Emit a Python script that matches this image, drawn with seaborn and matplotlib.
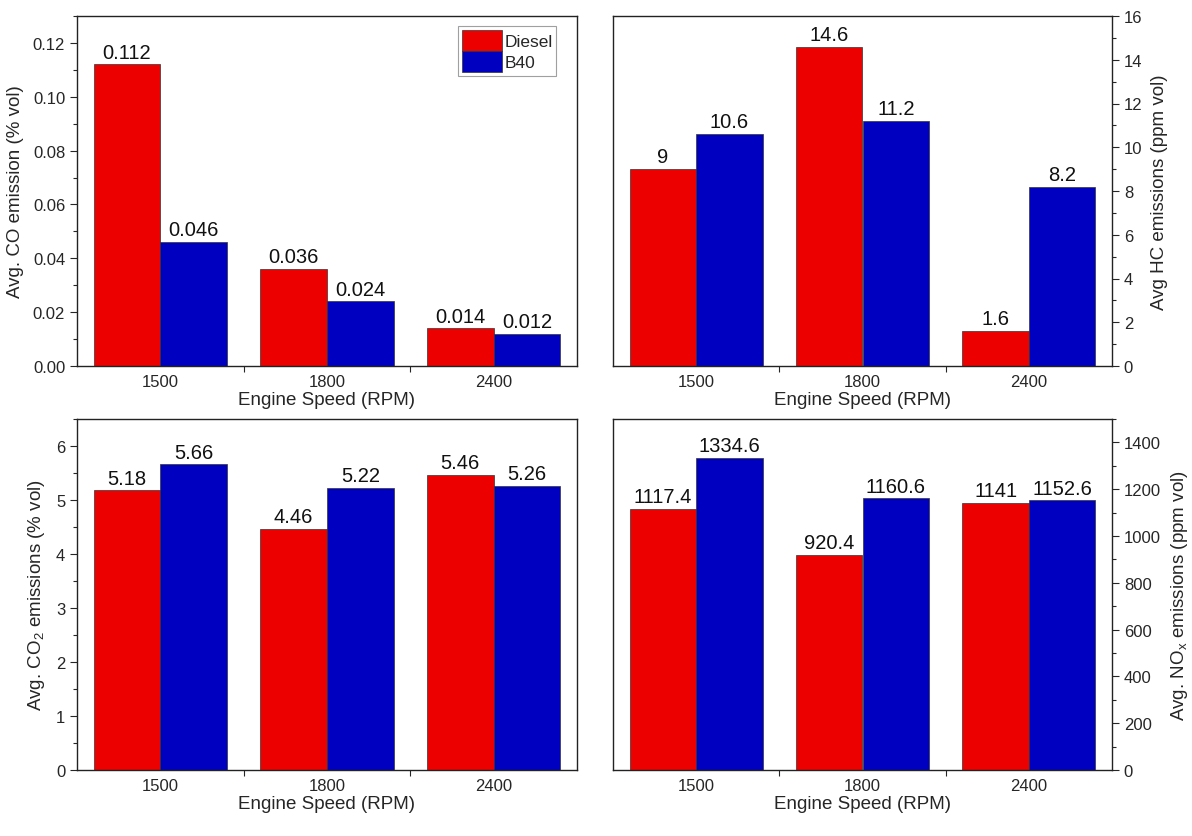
import numpy as np
import pandas as pd
import matplotlib
matplotlib.use("Agg")
import matplotlib.pyplot as plt
from matplotlib.ticker import MultipleLocator, FixedLocator, FormatStrFormatter
import seaborn as sns

sns.set_style("ticks")
plt.rcParams['font.family'] = ['Liberation Sans', 'DejaVu Sans']
plt.rcParams['mathtext.fontset'] = 'custom'
plt.rcParams['mathtext.rm'] = 'Liberation Sans'
plt.rcParams['mathtext.it'] = 'Liberation Sans'

speeds = ["1500", "1800", "2400"]
fuels = ["Diesel", "B40"]

co_diesel = [0.112, 0.036, 0.014]
co_b40 = [0.046, 0.024, 0.012]
hc_diesel = [9, 14.6, 1.6]
hc_b40 = [10.6, 11.2, 8.2]
co2_diesel = [5.18, 4.46, 5.46]
co2_b40 = [5.66, 5.22, 5.26]
nox_diesel = [1117.4, 920.4, 1141]
nox_b40 = [1334.6, 1160.6, 1152.6]

palette = {"Diesel": "#EC0000", "B40": "#0000C0"}


def long_frame(diesel, b40):
    rows = []
    for fuel, vals in (("Diesel", diesel), ("B40", b40)):
        for s, v in zip(speeds, vals):
            rows.append({"speed": s, "fuel": fuel, "value": v})
    return pd.DataFrame(rows)


fig = plt.figure(figsize=(11.92, 8.37), dpi=100)
W, H = 1192, 837


def add_ax(l, t, r, b):
    return fig.add_axes([l / W, 1 - b / H, (r - l) / W, (b - t) / H])


panels = [
    dict(box=(77, 17, 577, 367), d=co_diesel, b=co_b40, ymax=0.13, major=0.02, minor=0.01,
         fmt="%.2f", ylabel="Avg. CO emission (% vol)", side="left", legend=True),
    dict(box=(613, 17, 1112, 367), d=hc_diesel, b=hc_b40, ymax=16, major=2, minor=1,
         fmt="%d", ylabel="Avg HC emissions (ppm vol)", side="right", legend=False),
    dict(box=(77, 420, 577, 771), d=co2_diesel, b=co2_b40, ymax=6.5, major=1, minor=0.5,
         fmt="%d", ylabel="Avg. CO$_2$ emissions (% vol)", side="left", legend=False),
    dict(box=(613, 420, 1112, 771), d=nox_diesel, b=nox_b40, ymax=1500, major=200, minor=100,
         fmt="%d", ylabel="Avg. NO$_x$ emissions (ppm vol)", side="right", legend=False),
]

for p in panels:
    ax = add_ax(*p["box"])
    df = long_frame(p["d"], p["b"])
    sns.barplot(data=df, x="speed", y="value", hue="fuel", hue_order=fuels,
                order=speeds, palette=palette, width=0.8, saturation=1,
                edgecolor="#333333", linewidth=0.5, ax=ax, legend=p["legend"])
    for cont in ax.containers:
        labels = ["{:g}".format(v) for v in cont.datavalues]
        ax.bar_label(cont, labels=labels, padding=2, fontsize=14.5, color="#111111")
    ax.set_xlim(-0.5, 2.5)
    ax.set_ylim(0, p["ymax"])
    ax.yaxis.set_major_locator(MultipleLocator(p["major"]))
    ax.yaxis.set_minor_locator(MultipleLocator(p["minor"]))
    ax.yaxis.set_major_formatter(FormatStrFormatter(p["fmt"]))
    ax.xaxis.set_minor_locator(FixedLocator([0.5, 1.5]))
    ax.tick_params(axis="x", which="major", length=0, labelsize=12, pad=6)
    ax.tick_params(axis="x", which="minor", length=4, width=0.8, direction="out")
    ax.tick_params(axis="y", which="major", length=5, width=0.8, labelsize=12, direction="out")
    ax.tick_params(axis="y", which="minor", length=3, width=0.8, direction="out")
    for sp in ax.spines.values():
        sp.set_visible(True)
        sp.set_linewidth(1.0)
        sp.set_color("#222222")
    if p["side"] == "right":
        ax.yaxis.tick_right()
        ax.yaxis.set_label_position("right")
    ax.set_xlabel("Engine Speed (RPM)", fontsize=13.5, labelpad=1)
    ax.set_ylabel(p["ylabel"], fontsize=13.5, labelpad=6)
    if p["legend"]:
        leg = ax.legend(loc="upper right", bbox_to_anchor=(0.965, 0.98), frameon=True,
                        fancybox=False, fontsize=12.5, handlelength=2.3, handleheight=1.5,
                        handletextpad=0.15, labelspacing=0.0, borderpad=0.2,
                        borderaxespad=0.2, title=None)
        leg.get_frame().set_edgecolor("#888888")
        leg.get_frame().set_linewidth(0.8)

fig.savefig("out.png", dpi=100)
